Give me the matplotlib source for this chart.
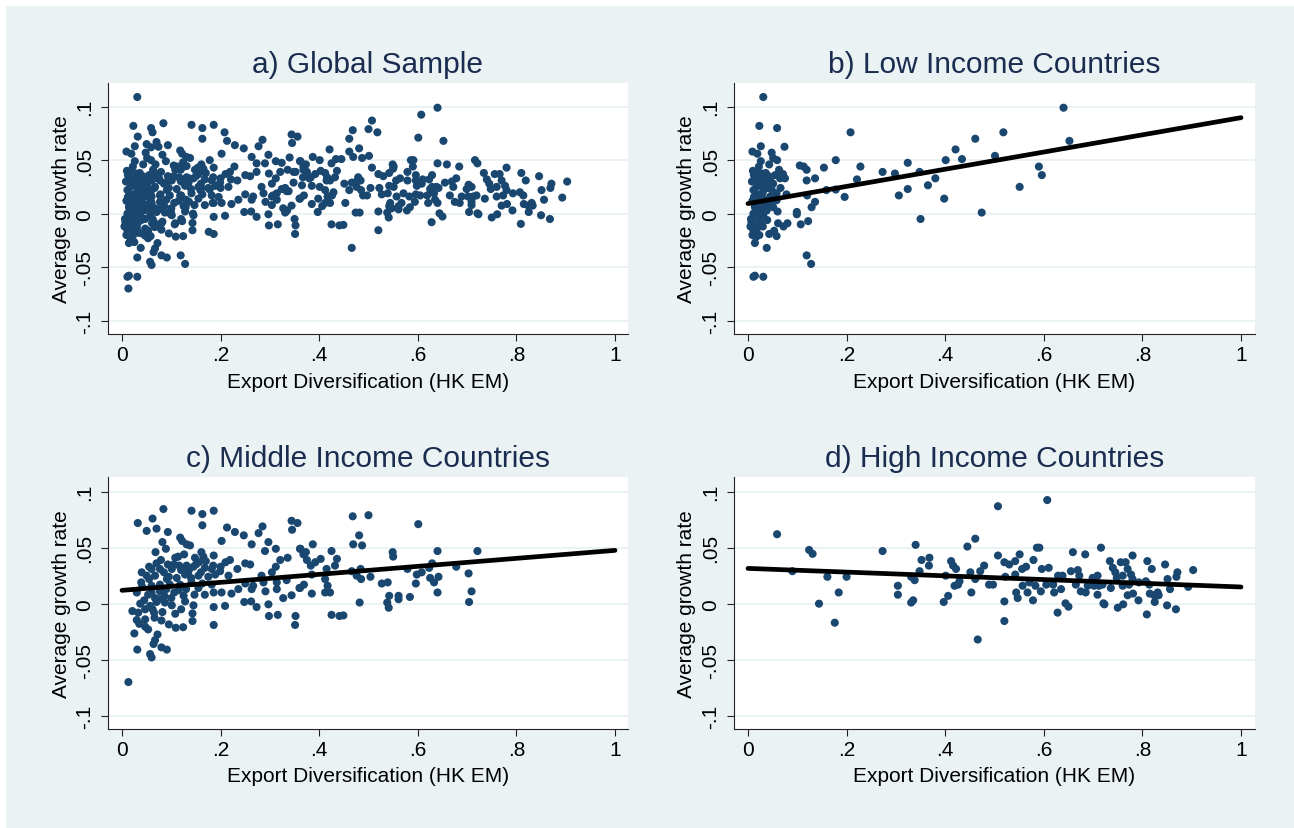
import matplotlib
matplotlib.use("Agg")
import matplotlib.pyplot as plt
from matplotlib.patches import Rectangle
import numpy as np

plt.rcParams['font.family'] = ['Liberation Sans', 'DejaVu Sans']

# points: (export diversification, average growth rate)
low_pts = [
    (0.031, 0.109), (0.023, 0.082), (0.059, 0.080), (0.208, 0.076), (0.026, 0.063),
    (0.074, 0.0625), (0.009, 0.058), (0.019, 0.056), (0.048, 0.057), (0.026, 0.049),
    (0.043, 0.046), (0.059, 0.050), (0.051, 0.052), (0.105, 0.045), (0.113, 0.044),
    (0.119, 0.041), (0.154, 0.043), (0.178, 0.050), (0.228, 0.044), (0.273, 0.039),
    (0.298, 0.0375), (0.324, 0.0475), (0.348, 0.039), (0.365, 0.0265), (0.221, 0.032),
    (0.196, 0.0156), (0.306, 0.017), (0.324, 0.023), (0.350, -0.005), (0.136, 0.033),
    (0.119, 0.031), (0.159, 0.022), (0.178, 0.0225), (0.120, 0.017), (0.136, 0.011),
    (0.129, 0.006), (0.099, 0.0016), (0.099, -0.0006), (0.107, -0.010), (0.122, -0.007),
    (0.119, -0.039), (0.128, -0.047), (0.078, 0.018), (0.061, -0.009), (0.072, -0.012),
    (0.080, -0.009), (0.043, -0.019), (0.053, -0.016), (0.058, -0.021), (0.038, -0.032),
    (0.014, -0.058), (0.011, -0.059), (0.031, -0.059),
    (0.012, 0.036), (0.017, 0.039), (0.028, 0.0375), (0.036, 0.038), (0.031, 0.031),
    (0.045, 0.031), (0.051, 0.028), (0.065, 0.033), (0.071, 0.037), (0.075, 0.033),
    (0.063, 0.041), (0.011, 0.022), (0.017, 0.025), (0.030, 0.020), (0.048, 0.0225),
    (0.012, 0.0156), (0.021, 0.0125), (0.031, 0.014), (0.045, 0.009), (0.058, 0.0125),
    (0.014, 0.006), (0.024, 0.003), (0.038, 0.003), (0.051, 0.006), (0.011, 0.0),
    (0.021, -0.003), (0.031, -0.0016), (0.007, -0.008), (0.017, -0.009), (0.011, -0.0156),
    (0.016, -0.022), (0.014, -0.0275), (0.023, -0.020), (0.039, -0.006), (0.006, -0.005),
    (0.028, 0.009), (0.036, 0.0125), (0.058, 0.019), (0.008, 0.030), (0.020, 0.032),
    (0.040, 0.024), (0.055, 0.036), (0.066, 0.024), (0.009, 0.012), (0.025, -0.008),
    (0.033, 0.006), (0.045, 0.016), (0.019, 0.018), (0.005, -0.012), (0.009, -0.020),
    (0.010, 0.040), (0.022, 0.044), (0.035, 0.028), (0.042, 0.035), (0.015, 0.008),
    (0.027, 0.026), (0.050, 0.018), (0.060, 0.002), (0.018, -0.014), (0.030, -0.012),
    (0.380, 0.033), (0.398, 0.014), (0.401, 0.050), (0.421, 0.060), (0.434, 0.051),
    (0.461, 0.070), (0.474, 0.001), (0.501, 0.054), (0.518, 0.076), (0.551, 0.025),
    (0.590, 0.044), (0.596, 0.036), (0.640, 0.099), (0.652, 0.068),
]

middle_pts = [
    (0.013, -0.070), (0.084, 0.0845), (0.141, 0.083), (0.163, 0.080), (0.186, 0.083),
    (0.032, 0.072), (0.062, 0.076), (0.050, 0.065), (0.070, 0.067), (0.093, 0.064),
    (0.163, 0.070), (0.213, 0.068), (0.229, 0.064), (0.247, 0.061), (0.277, 0.063),
    (0.285, 0.069), (0.344, 0.074), (0.356, 0.072), (0.345, 0.066), (0.118, 0.059),
    (0.122, 0.056), (0.082, 0.055), (0.089, 0.049), (0.131, 0.053), (0.138, 0.052),
    (0.202, 0.056), (0.263, 0.053), (0.297, 0.055), (0.312, 0.049), (0.290, 0.047),
    (0.361, 0.049), (0.068, 0.046), (0.108, 0.041), (0.114, 0.042), (0.126, 0.044),
    (0.161, 0.046), (0.186, 0.043), (0.079, 0.039), (0.093, 0.035), (0.148, 0.041),
    (0.165, 0.042), (0.219, 0.039), (0.210, 0.037), (0.321, 0.039), (0.336, 0.041),
    (0.055, 0.033), (0.060, 0.031), (0.077, 0.031), (0.101, 0.031), (0.116, 0.034),
    (0.131, 0.034), (0.145, 0.033), (0.156, 0.037), (0.168, 0.032), (0.182, 0.031),
    (0.199, 0.029), (0.234, 0.031), (0.250, 0.036), (0.260, 0.035), (0.312, 0.033),
    (0.368, 0.044), (0.039, 0.019), (0.050, 0.025), (0.067, 0.025), (0.091, 0.022),
    (0.111, 0.023), (0.128, 0.026), (0.140, 0.023), (0.155, 0.025), (0.175, 0.024),
    (0.189, 0.026), (0.216, 0.025), (0.283, 0.025), (0.304, 0.028), (0.041, 0.015),
    (0.060, 0.016), (0.077, 0.017), (0.097, 0.017), (0.118, 0.017), (0.141, 0.019),
    (0.163, 0.018), (0.182, 0.017), (0.250, 0.018), (0.266, 0.016), (0.287, 0.019),
    (0.314, 0.019), (0.334, 0.021), (0.361, 0.014), (0.030, 0.010), (0.053, 0.008),
    (0.067, 0.005), (0.077, 0.011), (0.086, 0.007), (0.106, 0.010), (0.125, 0.007),
    (0.147, 0.008), (0.168, 0.008), (0.186, 0.010), (0.202, 0.010), (0.222, 0.009),
    (0.236, 0.013), (0.263, 0.013), (0.291, 0.011), (0.314, 0.013), (0.037, 0.0),
    (0.057, -0.002), (0.070, 0.0015), (0.087, 0.001), (0.101, -0.0015), (0.128, 0.002),
    (0.145, -0.0015), (0.248, 0.0015), (0.262, 0.002), (0.273, -0.003), (0.297, -0.0006),
    (0.327, 0.005), (0.344, 0.0075), (0.021, -0.0066), (0.033, -0.008), (0.047, -0.005),
    (0.062, -0.005), (0.082, -0.0075), (0.108, -0.009), (0.143, -0.0087), (0.186, -0.003),
    (0.209, -0.002), (0.030, -0.0146), (0.047, -0.014), (0.066, -0.0125), (0.095, -0.0185),
    (0.109, -0.0215), (0.124, -0.021), (0.143, -0.0155), (0.186, -0.019), (0.298, -0.011),
    (0.316, -0.010), (0.352, -0.011), (0.351, -0.019), (0.047, -0.0206), (0.053, -0.023),
    (0.025, -0.0266), (0.072, -0.0275), (0.067, -0.0325), (0.064, -0.036), (0.031, -0.041),
    (0.080, -0.039), (0.091, -0.041), (0.057, -0.045), (0.060, -0.048),
    (0.040, 0.028), (0.055, 0.022), (0.070, 0.036), (0.085, 0.028), (0.095, 0.024),
    (0.105, 0.035), (0.120, 0.030), (0.135, 0.029), (0.150, 0.035), (0.160, 0.028),
    (0.170, 0.038), (0.185, 0.034), (0.200, 0.033), (0.045, 0.003), (0.060, 0.010),
    (0.075, 0.004), (0.090, 0.013), (0.115, 0.012), (0.130, 0.013), (0.155, 0.014),
    (0.065, -0.008), (0.080, -0.015), (0.035, -0.018), (0.100, 0.005), (0.120, -0.005),
    (0.468, 0.078), (0.500, 0.079), (0.601, 0.071), (0.481, 0.061), (0.469, 0.053),
    (0.487, 0.052), (0.387, 0.053), (0.362, 0.049), (0.373, 0.046), (0.425, 0.047),
    (0.436, 0.040), (0.403, 0.040), (0.375, 0.039), (0.392, 0.037), (0.383, 0.034),
    (0.432, 0.034), (0.415, 0.031), (0.549, 0.046), (0.550, 0.042), (0.640, 0.047),
    (0.721, 0.047), (0.466, 0.029), (0.484, 0.031), (0.476, 0.025), (0.485, 0.022),
    (0.504, 0.024), (0.385, 0.026), (0.412, 0.022), (0.579, 0.031), (0.598, 0.026),
    (0.608, 0.028), (0.623, 0.032), (0.629, 0.036), (0.678, 0.033), (0.703, 0.027),
    (0.625, 0.023), (0.642, 0.024), (0.633, 0.019), (0.596, 0.018), (0.527, 0.018),
    (0.539, 0.019), (0.369, 0.017), (0.360, 0.014), (0.417, 0.016), (0.412, 0.010),
    (0.422, 0.010), (0.385, 0.009), (0.542, 0.007), (0.561, 0.007), (0.561, 0.004),
    (0.584, 0.006), (0.640, 0.010), (0.709, 0.011), (0.482, 0.001), (0.538, 0.001),
    (0.541, -0.0036), (0.704, 0.0015), (0.425, -0.010), (0.441, -0.011), (0.449, -0.0105),
]

high_pts = [
    (0.059, 0.062), (0.124, 0.048), (0.131, 0.0445), (0.090, 0.029), (0.161, 0.024),
    (0.200, 0.024), (0.184, 0.010), (0.144, 0.000), (0.176, -0.017), (0.273, 0.047),
    (0.340, 0.0525), (0.352, 0.039), (0.368, 0.041), (0.367, 0.034), (0.348, 0.029),
    (0.331, 0.024), (0.338, 0.021), (0.304, 0.016), (0.304, 0.008), (0.331, 0.001),
    (0.335, 0.003), (0.397, 0.0015), (0.406, 0.007), (0.401, 0.025), (0.412, 0.038),
    (0.416, 0.034), (0.422, 0.031), (0.419, 0.016), (0.429, 0.020), (0.426, 0.017),
    (0.445, 0.051), (0.461, 0.058), (0.451, 0.028), (0.471, 0.029), (0.461, 0.022),
    (0.479, 0.034), (0.489, 0.017), (0.453, 0.010), (0.466, -0.032),
    (0.507, 0.087), (0.607, 0.0925), (0.507, 0.043), (0.520, 0.037), (0.530, 0.035),
    (0.542, 0.038), (0.551, 0.044), (0.522, 0.024), (0.497, 0.017), (0.542, 0.026),
    (0.556, 0.031), (0.564, 0.033), (0.579, 0.039), (0.586, 0.050), (0.591, 0.050),
    (0.596, 0.031), (0.610, 0.032), (0.557, 0.016), (0.571, 0.019), (0.583, 0.016),
    (0.594, 0.011), (0.605, 0.017), (0.619, 0.017), (0.629, 0.025), (0.638, 0.025),
    (0.621, 0.010), (0.635, 0.013), (0.544, 0.010), (0.547, 0.005), (0.567, 0.010),
    (0.578, 0.003), (0.520, 0.002), (0.520, -0.0155), (0.628, -0.008), (0.644, 0.0003),
    (0.650, -0.0027), (0.659, 0.046), (0.684, 0.044), (0.716, 0.050), (0.655, 0.029),
    (0.669, 0.030), (0.672, 0.025), (0.665, 0.017), (0.675, 0.011), (0.685, 0.010),
    (0.689, 0.016), (0.699, 0.023), (0.709, 0.025), (0.702, 0.016), (0.712, 0.016),
    (0.719, 0.017), (0.709, 0.008), (0.721, 0.0003), (0.723, -0.0006), (0.734, 0.038),
    (0.740, 0.032), (0.745, 0.028), (0.736, 0.014), (0.748, 0.023), (0.756, 0.037),
    (0.766, 0.037), (0.780, 0.043), (0.760, 0.025), (0.770, 0.031), (0.777, 0.026),
    (0.780, 0.022), (0.760, 0.016), (0.773, 0.017), (0.793, 0.019), (0.807, 0.020),
    (0.770, 0.0075), (0.781, 0.009), (0.792, 0.003), (0.750, -0.0036), (0.761, -0.0006),
    (0.809, -0.0096), (0.810, 0.038), (0.819, 0.031), (0.814, 0.017), (0.815, 0.009),
    (0.824, 0.0075), (0.831, 0.010), (0.825, 0.0015), (0.833, 0.0075), (0.846, 0.035),
    (0.851, 0.022), (0.856, 0.013), (0.850, -0.0015), (0.868, -0.005), (0.869, 0.024),
    (0.871, 0.028), (0.893, 0.015), (0.903, 0.030),
]

# fitted lines: value at x=0 and at x=1
fit_low = (0.0094, 0.0897)
fit_middle = (0.0119, 0.0476)
fit_high = (0.0315, 0.0149)

titles = ["a) Global Sample", "b) Low Income Countries",
          "c) Middle Income Countries", "d) High Income Countries"]
x_ticks = [0, 0.2, 0.4, 0.6, 0.8, 1]
x_tick_labels = ["0", ".2", ".4", ".6", ".8", "1"]
y_ticks = [-0.1, -0.05, 0, 0.05, 0.1]
y_tick_labels = ["-.1", "-.05", "0", ".05", ".1"]
x_label = "Export Diversification (HK EM)"
y_label = "Average growth rate"

navy = "#1a476f"
bg = "#eaf2f3"
title_color = "#1a2c50"

W, H = 1294, 829
fig = plt.figure(figsize=(W / 100, H / 100), dpi=100)
fig.patch.set_facecolor("white")
fig.add_artist(Rectangle((6 / W, 0), 1, 1 - 7 / H, transform=fig.transFigure,
                         facecolor=bg, edgecolor="none", zorder=-10))

low = np.array(low_pts)
middle = np.array(middle_pts)
high = np.array(high_pts)
glob = np.vstack([low, middle, high])

panels = [
    (glob, None, (108, 84, 520, 251), (-0.1125, 0.1221)),
    (low, fit_low, (734, 84, 521, 251), (-0.1125, 0.1221)),
    (middle, fit_middle, (108, 478, 520, 252), (-0.1119, 0.1131)),
    (high, fit_high, (734, 478, 521, 252), (-0.1119, 0.1131)),
]

for (pts, fit, (l, t, w, h), ylim), title in zip(panels, titles):
    ax = fig.add_axes([l / W, 1 - (t + h) / H, w / W, h / H])
    ax.set_facecolor("white")
    ax.scatter(pts[:, 0], pts[:, 1], s=34, color=navy, edgecolors="none", zorder=3)
    if fit is not None:
        ax.plot([0, 1], list(fit), color="black", lw=3.4, zorder=4,
                solid_capstyle="round")
    ax.set_xlim(-0.0284, -0.0284 + w / 493)
    ax.set_ylim(*ylim)
    ax.set_xticks(x_ticks)
    ax.set_xticklabels(x_tick_labels, fontsize=15)
    ax.set_yticks(y_ticks)
    ax.set_yticklabels(y_tick_labels, fontsize=15, rotation=90, va="center")
    ax.tick_params(length=5, width=0.8, color="#222222", pad=3)
    ax.tick_params(axis="y", pad=5)
    for y in y_ticks:
        ax.axhline(y, color=bg, lw=1.4, zorder=1)
    for s in ["top", "right"]:
        ax.spines[s].set_visible(False)
    for s in ["left", "bottom"]:
        ax.spines[s].set_color("#222222")
        ax.spines[s].set_linewidth(0.8)
    ax.set_xlabel(x_label, fontsize=15)
    ax.xaxis.label.set_va("center")
    ax.xaxis.set_label_coords(0.5, -47 / h)
    ax.set_ylabel(y_label, fontsize=15)
    ax.yaxis.label.set_va("center")
    ax.yaxis.set_label_coords(-47 / w, 0.5)
    ax.text(0.5, 1 + 19 / h, title, transform=ax.transAxes, ha="center",
            va="center", fontsize=21.5, color=title_color)

fig.savefig("out.png", dpi=100, facecolor=fig.get_facecolor())
